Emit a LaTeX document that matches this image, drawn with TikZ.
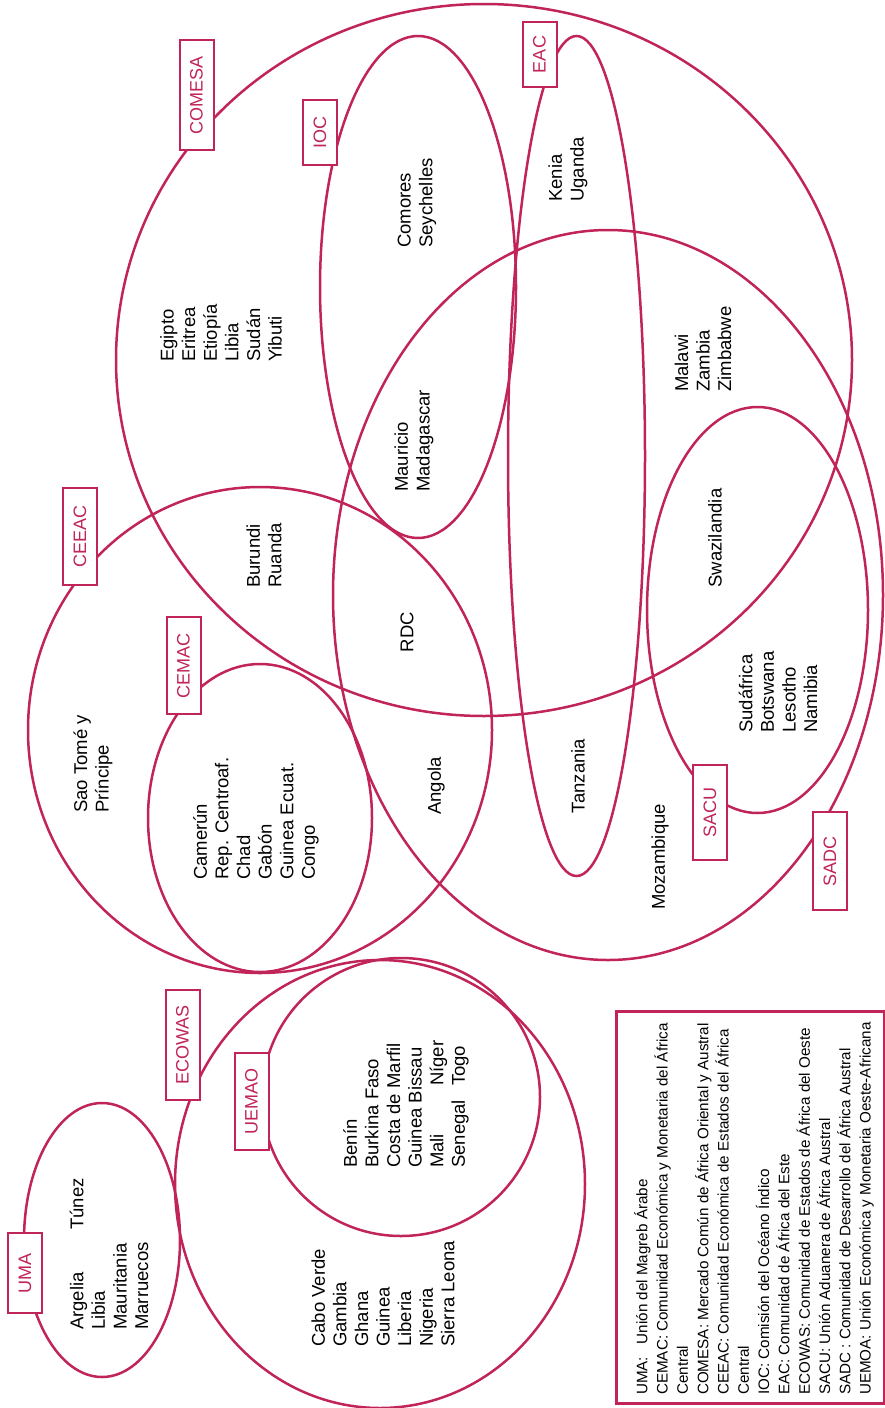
\documentclass[tikz,border=0pt]{standalone}
\usepackage{fontspec}
\setmainfont{Liberation Sans}
\usetikzlibrary{shapes.geometric}
\definecolor{crim}{RGB}{192,36,88}
\begin{document}
\begin{tikzpicture}[x=1pt,y=-1pt,
  ring/.style={ellipse, draw=crim, line width=2.5pt, inner sep=0pt},
  tag/.style={draw=crim, fill=white, line width=2pt, text=crim, rotate=90, minimum height=34pt, inner xsep=2pt, inner ysep=0pt, font=\fontsize{18}{21}\selectfont},
  lst/.style={rotate=90, anchor=west, align=left, inner sep=0pt, font=\fontsize{18.5}{21.6}\selectfont},
  one/.style={rotate=90, anchor=center, inner sep=0pt, font=\fontsize{18.5}{21.6}\selectfont},
]
\useasboundingbox (0,0) rectangle (885,1408);
% circles
\node[ring, minimum width=736pt, minimum height=712pt] (comesa) at (484,360) {};
\node[ring, minimum width=196pt, minimum height=502pt] (ioc) at (418,287) {};
\node[ring, minimum width=137pt, minimum height=840pt] (eac) at (576.5,456) {};
\node[ring, minimum width=550pt, minimum height=730pt] (sadc) at (608,595) {};
\node[ring, minimum width=221pt, minimum height=406pt] (sacu) at (757.5,610) {};
\node[ring, minimum width=464pt, minimum height=486pt] (ceeac) at (260,730) {};
\node[ring, minimum width=224pt, minimum height=308pt] (cemac) at (260,818) {};
\node[ring, minimum width=410pt, minimum height=448pt] (ecowas) at (380,1184) {};
\node[ring, minimum width=278pt, minimum height=278pt] (uemao) at (401,1097) {};
\node[ring, minimum width=156pt, minimum height=274pt] (uma) at (102,1240) {};
% tags
\node[tag, minimum width=110pt] (lcomesa) at (196.5,95) {COMESA};
\node[tag, minimum width=65pt] (lioc) at (320,132.5) {IOC};
\node[tag, minimum width=65pt] (leac) at (539.5,54.5) {EAC};
\node[tag, minimum width=97pt] (lceeac) at (80,536.5) {CEEAC};
\node[tag, minimum width=97pt] (lcemac) at (183.5,665.5) {CEMAC};
\node[tag, minimum width=95pt] (lsacu) at (710,812.5) {SACU};
\node[tag, minimum width=98pt] (lsadc) at (830,861) {SADC};
\node[tag, minimum width=110pt] (lecowas) at (182.5,1045) {ECOWAS};
\node[tag, minimum width=97pt] (luemao) at (251.5,1101.5) {UEMAO};
\node[tag, minimum width=80pt] (luma) at (25,1273) {UMA};
% countries
\node[lst] (t1) at (221,362) {Egipto\\Eritrea\\Etiopía\\Libia\\Sudán\\Yibuti};
\node[lst] (t2) at (417,248) {Comores\\Seychelles};
\node[lst] (t3) at (568,202) {Kenia\\Uganda};
\node[lst] (t4) at (703,392) {Malawi\\Zambia\\Zimbabwe};
\node[lst] (t5) at (414,492) {Mauricio\\Madagascar};
\node[lst] (t6) at (264,588) {Burundi\\Ruanda};
\node[one] (t7) at (407,632) {RDC};
\node[one] (t8) at (715,538) {Swazilandia};
\node[lst] (t9) at (778,733) {Sudáfrica\\Botswana\\Lesotho\\Namibia};
\node[lst] (t10) at (93,813) {Sao Tomé y\\Príncipe};
\node[lst] (t11) at (256,880) {Camerún\\Rep. Centroaf.\\Chad\\Gabón\\Guinea Ecuat.\\Congo};
\node[one] (t12) at (436,786) {Angola};
\node[one] (t13) at (578,776) {Tanzania};
\node[one] (t14) at (660,857) {Mozambique};
\node[lst] (t15) at (406,1168) {Benín\\Burkina Faso\\Costa de Marfil\\Guinea Bissau\\\makebox[82pt][l]{Mali}Níger\\\makebox[82pt][l]{Senegal}Togo};
\node[lst] (t16) at (383,1347) {Cabo Verde\\Gambia\\Ghana\\Guinea\\Liberia\\Nigeria\\Sierra Leona};
\node[lst] (t17) at (109,1330) {\makebox[100pt][l]{Argelia}Túnez\\Libia\\Mauritania\\Marruecos};
% legend
\node[draw=crim, line width=2.5pt, minimum width=268pt, minimum height=392pt, inner sep=0pt, anchor=north west] (legbox) at (615,1010) {};
\node[rotate=90, anchor=north west, align=left, inner sep=0pt, font=\fontsize{15.2}{20.3}\selectfont] (legtext) at (634,1395) {UMA:\ \ \ Unión del Magreb Árabe\\CEMAC: Comunidad Económica y Monetaria del África\\Central\\COMESA: Mercado Común de África Oriental y Austral\\CEEAC: Comunidad Económica de Estados del África\\Central\\IOC: Comisión del Océano Índico\\EAC: Comunidad de África del Este\\ECOWAS: Comunidad de Estados de África del Oeste\\SACU: Unión Aduanera de África Austral\\SADC : Comunidad de Desarrollo del África Austral\\UEMOA: Unión Económica y Monetaria Oeste-Africana};
\end{tikzpicture}
\end{document}
